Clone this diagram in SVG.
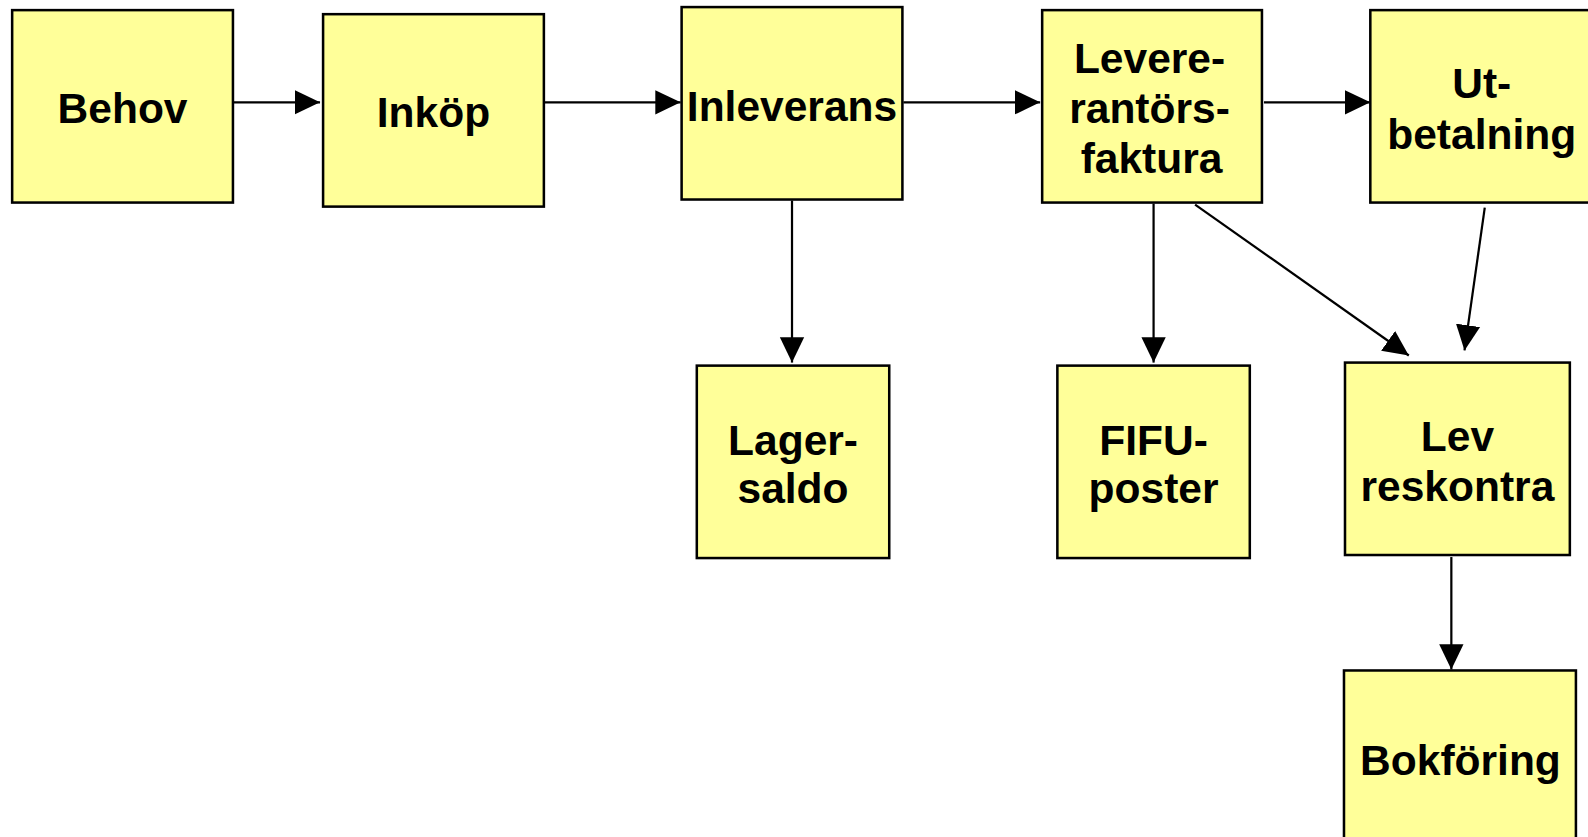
<svg xmlns="http://www.w3.org/2000/svg" width="1588" height="837" viewBox="0 0 1588 837">
<style>
.box{fill:#FFFF99;stroke:#000;stroke-width:2.5}
.t{font-family:"Liberation Sans",Arial,sans-serif;font-weight:bold;font-size:42px;text-anchor:middle;fill:#000}
.c{stroke:#000;stroke-width:2.2;fill:none;marker-end:url(#ah)}
</style>
<defs>
<marker id="ah" markerUnits="userSpaceOnUse" markerWidth="26" markerHeight="26" viewBox="0 0 26 26" refX="25" refY="13" orient="auto">
<path d="M0,1 L25,13 L0,25 Z" fill="#000"/>
</marker>
</defs>
<rect width="1588" height="837" fill="#fff"/>
<g transform="scale(1.0128)">
<g id="connectors">
<line class="c" x1="231" y1="101" x2="316" y2="101"/>
<line class="c" x1="538" y1="101" x2="672" y2="101"/>
<line class="c" x1="892" y1="101" x2="1027" y2="101"/>
<line class="c" x1="1248" y1="101" x2="1353" y2="101"/>
<line class="c" x1="782" y1="198" x2="782" y2="358"/>
<line class="c" x1="1139" y1="201" x2="1139" y2="358"/>
<line class="c" x1="1180" y1="202" x2="1391" y2="351"/>
<line class="c" x1="1466" y1="205" x2="1446" y2="346"/>
<line class="c" x1="1433" y1="550" x2="1433" y2="661"/>
</g>
<g id="behov"><rect class="box" x="12" y="10" width="218" height="190"/><text class="t" x="121" y="121">Behov</text></g>
<g id="inkop"><rect class="box" x="319" y="14" width="218" height="190"/><text class="t" x="428" y="125">Inköp</text></g>
<g id="inleverans"><rect class="box" x="673" y="7" width="218" height="190"/><text class="t" x="782" y="119">Inleverans</text></g>
<g id="leverantorsfaktura"><rect class="box" x="1029" y="10" width="217" height="190"/><text class="t" x="1135" y="72">Levere-</text><text class="t" x="1135" y="121">rantörs-</text><text class="t" x="1137" y="171">faktura</text></g>
<g id="utbetalning"><rect class="box" x="1353" y="10" width="219" height="190"/><text class="t" x="1463" y="97">Ut-</text><text class="t" x="1463" y="147">betalning</text></g>
<g id="lagersaldo"><rect class="box" x="688" y="361" width="190" height="190"/><text class="t" x="783" y="449">Lager-</text><text class="t" x="783" y="497">saldo</text></g>
<g id="fifuposter"><rect class="box" x="1044" y="361" width="190" height="190"/><text class="t" x="1139" y="449">FIFU-</text><text class="t" x="1139" y="497">poster</text></g>
<g id="levreskontra"><rect class="box" x="1328" y="358" width="222" height="190"/><text class="t" x="1439" y="445">Lev</text><text class="t" x="1439" y="495">reskontra</text></g>
<g id="bokforing"><rect class="box" x="1327" y="662" width="229" height="190"/><text class="t" x="1442" y="765">Bokföring</text></g>
</g>
</svg>
